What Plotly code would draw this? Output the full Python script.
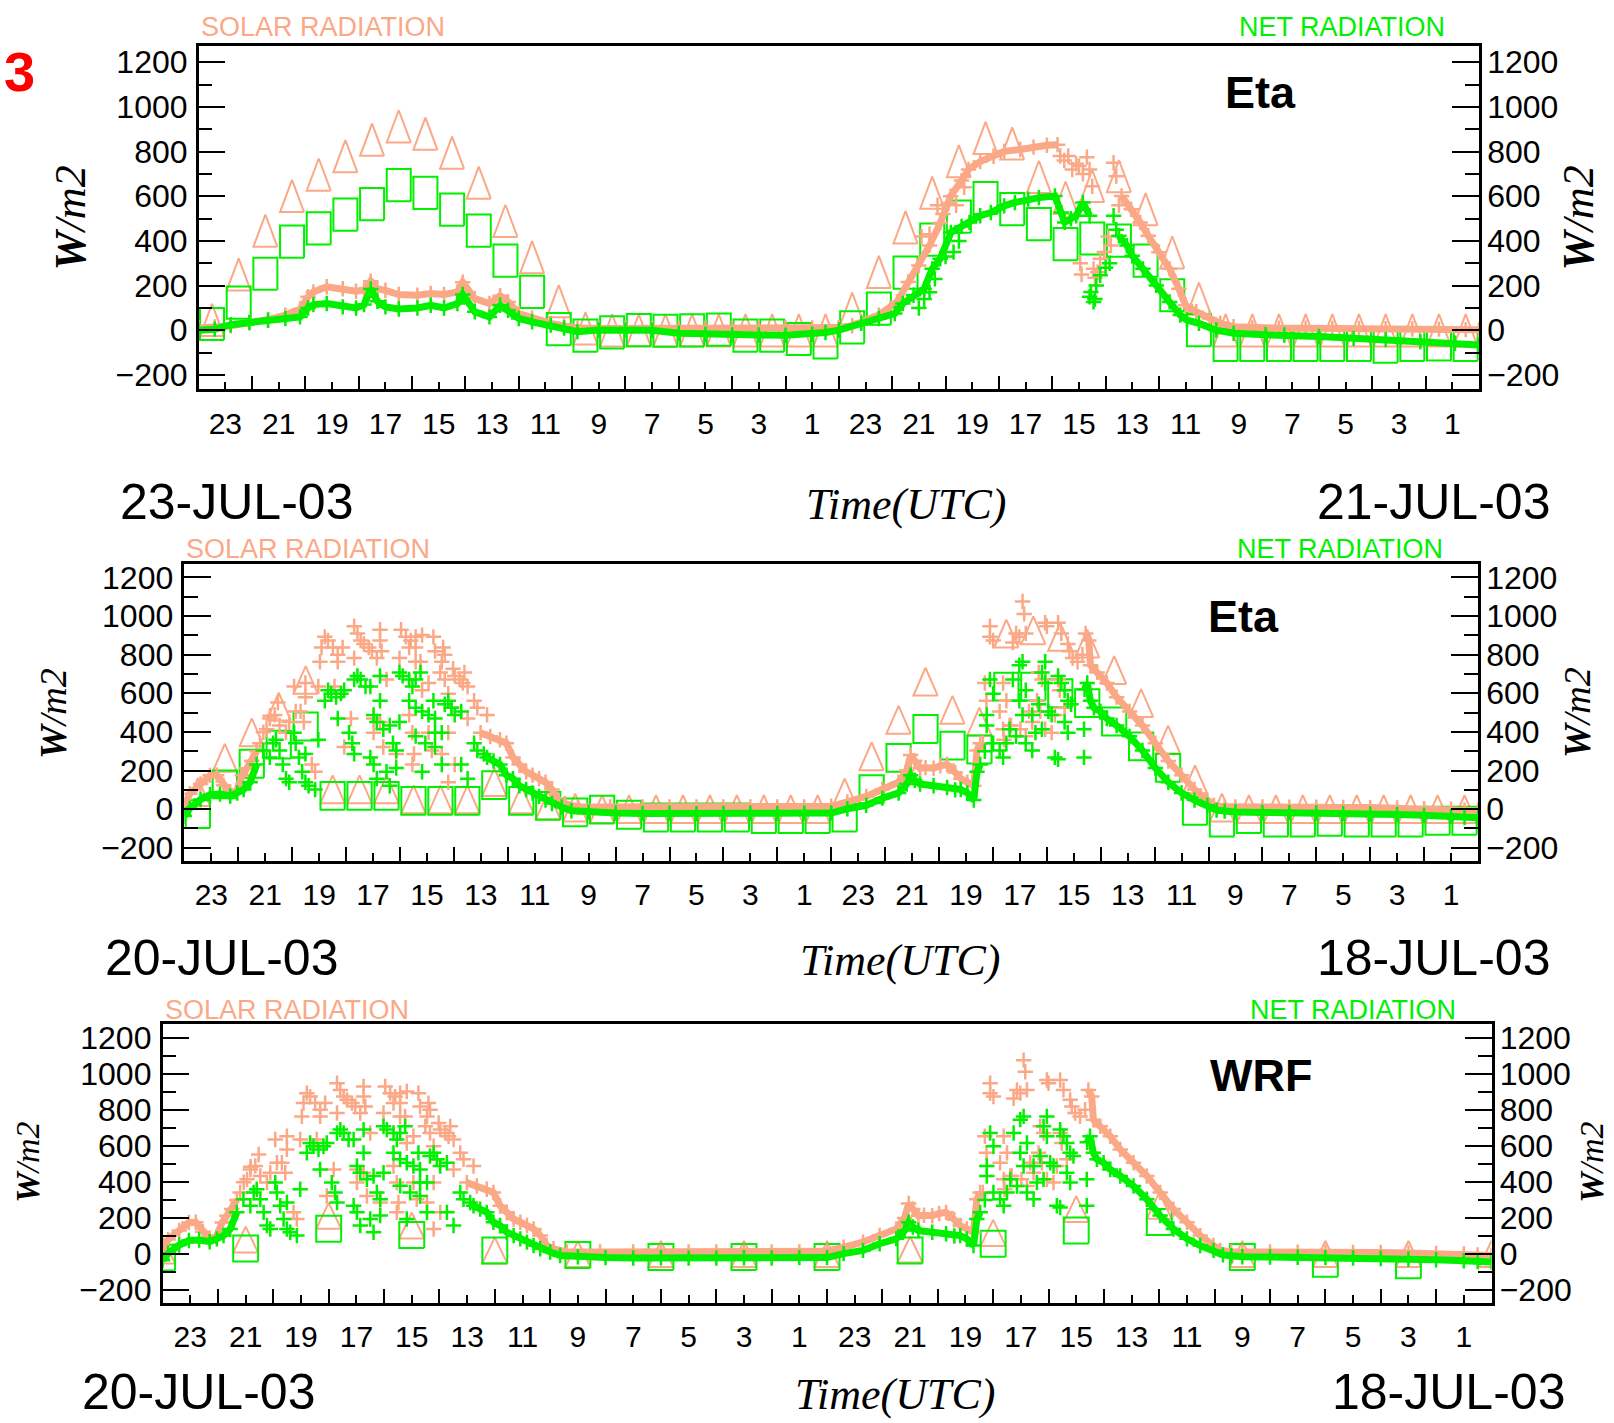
import plotly.graph_objects as go

W, H = 1614, 1423
ORANGE = "#FBA887"
GREEN = "#00F000"

# ---------------------------------------------------------------------------
# Time axis: hours before the end of each 48-h window (0 = right edge).
# Eta output is plotted at half hours, WRF output every 3 hours.
# ---------------------------------------------------------------------------
HALF_HOURS = [h + 0.5 for h in range(47, -1, -1)]
WRF_HOURS = list(range(48, -1, -3))
ODD_HOURS = list(range(47, 0, -2))
EVEN_HOURS = list(range(46, 1, -2))
TICK_TEXT = [str(h % 24) for h in ODD_HOURS]
Y_TICKS = [-200, 0, 200, 400, 600, 800, 1000, 1200]

# ---- Panel 1: Eta, 21-23 Jul 2003 (hourly model values) ----
ETA1_SOLAR = [46, 250, 446, 601, 697, 779, 853, 913, 880, 795, 661, 490, 327, 130, 8,
              0, 0, 0, 0, 0, 0, 0, 0, 0,
              97, 261, 461, 616, 757, 861, 836, 687, 594, 646, 690, 542, 349, 142,
              0, 0, 0, 0, 0, 0, 0, 0, 0, 0]
ETA1_NET = [28, 124, 253, 397, 456, 518, 565, 650, 615, 540, 446, 312, 172, 5,
            -24, -9, 1, -2, 0, 3, -24, -24, -39, -54,
            13, 97, 258, 406, 509, 592, 542, 475, 386, 411, 401, 312, 157, 1,
            -66, -66, -66, -66, -66, -66, -73, -66, -63, -66]

# ---- Panel 2: Eta, 18-20 Jul 2003 ----
ETA2_SOLAR = [89, 266, 398, 531, 669, 103, 103, 103, 51, 51, 51, 140, 51, 20, 8,
              0, 0, 0, 0, 0, 0, 0, 0, 0,
              86, 274, 463, 660, 514, 454, 909, 926, 892, 857, 720, 549, 360, 154,
              8, 0, 0, 0, 0, 0, 0, 0, 0, 0]
ETA2_NET = [-26, 128, 235, 334, 428, 69, 69, 69, 43, 43, 43, 124, 43, 17,
            -17, -2, -29, -43, -43, -43, -43, -51, -51, -51,
            -43, 103, 266, 415, 329, 309, 634, 634, 600, 549, 454, 325, 214, -9,
            -69, -51, -69, -69, -65, -69, -69, -69, -60, -60]

# ---- Panel 3: WRF, 18-20 Jul 2003 (3-hourly) ----
WRF_SOLAR = [20, 80, 212, 158, 20, 0, 0, 0, 0, 25, 117, 249, 267, 0, 0, 0, 0]
WRF_NET = [-20, 31, 140, 105, 20, -6, -17, -17, -17, 20, 57, 130, 178, -17, -54, -63, None]

# ---------------------------------------------------------------------------
# Station observations (hour, W/m2).  "band" = continuous record,
# "scatter" = cloudy periods with strongly varying values.
# ---------------------------------------------------------------------------
OBS1_SOLAR_BAND = [
    [(48.0, 10), (47.4, 15), (46.8, 20), (46.1, 35), (45.4, 48), (44.75, 68), (44.2, 95),
     (43.9, 150), (43.7, 172), (43.2, 195), (42.6, 186), (42.1, 175), (41.8, 180), (41.55, 220),
     (41.3, 185), (41.0, 179), (40.5, 160), (39.8, 157), (39.3, 165), (38.8, 160), (38.3, 172),
     (38.1, 215), (37.65, 142), (37.1, 120), (36.7, 155), (36.4, 127), (36.0, 75), (35.5, 55),
     (34.8, 31), (34.3, 20), (33.8, 10), (33.0, 8), (32.0, 8), (31.0, 8), (30.0, 7), (29.0, 8),
     (28.0, 9), (27.0, 10), (26.0, 12), (25.0, 10), (24.0, 12), (23.5, 20), (23.16, 38),
     (22.5, 68), (21.82, 127), (21.4, 216), (21.0, 290), (20.6, 380), (20.2, 480), (19.81, 600),
     (19.4, 670), (19.14, 720), (18.7, 755), (18.2, 779), (17.8, 801), (17.2, 809), (16.7, 820),
     (16.2, 828), (15.8, 831)],
    [(13.4, 601), (13.04, 542), (12.7, 483), (12.4, 423), (12.0, 349), (11.6, 275), (11.25, 186),
     (11.0, 112), (10.6, 83), (10.1, 53), (9.7, 31), (9.2, 16), (8.5, 10), (7.5, 9), (6.5, 9),
     (5.5, 8), (4.5, 8), (3.5, 7), (2.5, 6), (1.5, 5), (0.5, 3), (0.0, 2)],
]
OBS1_SOLAR_SCATTER = [
    (20.9, 420), (20.6, 430), (20.3, 560), (20.1, 520), (19.9, 570), (19.6, 560), (19.3, 640),
    (15.7, 780), (15.55, 760), (15.4, 780), (15.25, 720), (15.1, 745), (15.0, 735), (14.85, 700),
    (14.7, 775), (14.6, 720), (14.5, 645), (14.45, 275), (14.4, 235), (14.3, 260), (14.2, 320),
    (14.05, 350), (13.9, 420), (13.8, 380), (13.7, 750), (13.6, 690), (13.5, 560), (14.95, 300),
    (14.9, 250)]
OBS1_NET_BAND = [
    [(48.0, 0), (47.4, 5), (46.8, 25), (46.1, 35), (45.4, 45), (44.75, 52), (44.2, 60), (43.9, 100),
     (43.7, 115), (43.2, 120), (42.6, 105), (42.1, 100), (41.8, 115), (41.55, 185), (41.3, 130),
     (41.0, 105), (40.5, 95), (39.8, 100), (39.3, 112), (38.8, 100), (38.3, 120), (38.1, 160),
     (37.65, 83), (37.1, 60), (36.7, 112), (36.4, 90), (36.0, 53), (35.5, 38), (34.8, 23),
     (34.3, 10), (33.8, -6), (33.0, 1), (32.0, 1), (31.0, 0), (30.0, -13), (29.0, -18),
     (28.0, -21), (27.0, -21), (26.0, -22), (25.0, -18), (24.5, -10), (24.0, 1), (23.16, 31),
     (22.5, 53), (21.9, 75), (21.6, 120), (21.2, 157), (20.8, 186), (20.5, 275), (20.2, 320),
     (19.8, 438), (19.4, 465), (19.1, 483), (18.7, 513), (18.3, 527), (17.8, 557), (17.4, 572),
     (16.9, 587), (16.5, 594), (15.9, 601), (15.66, 527), (15.53, 483), (15.3, 500), (15.1, 513),
     (14.85, 572), (14.6, 513)],
    [(13.5, 423), (13.2, 379), (13.0, 334), (12.6, 275), (12.1, 201), (11.6, 127), (11.2, 68),
     (10.95, 46), (10.5, 31), (9.85, 1), (9.2, -13), (8.0, -20), (7.3, -21), (6.0, -28),
     (4.7, -36), (3.5, -42), (2.2, -50), (0.9, -58), (0.0, -66)],
]
OBS1_NET_SCATTER = [
    (21.0, 100), (20.8, 140), (20.6, 170), (20.4, 230), (20.0, 330), (19.7, 350), (19.5, 400),
    (14.55, 171), (14.45, 127), (14.35, 200), (14.2, 246), (14.0, 280), (13.85, 300), (13.7, 513),
    (13.6, 450), (14.6, 150), (14.4, 140)]

OBS2_SOLAR_BAND = [
    [(48.0, 20), (47.8, 80), (47.4, 130), (47.05, 175), (46.8, 176), (46.55, 124), (46.3, 86),
     (46.06, 95), (45.85, 175), (45.68, 212), (45.5, 250), (45.32, 300)],
    [(37.01, 396), (36.65, 377), (36.29, 359), (36.05, 341), (35.81, 268), (35.57, 231),
     (35.32, 194), (35.08, 176), (34.84, 158), (34.6, 139), (34.36, 102), (34.12, 47),
     (33.88, 29), (33.4, 11), (32.2, 11), (31.0, 11), (30.0, 12), (29.0, 12), (28.0, 12),
     (27.0, 12), (26.0, 11), (25.0, 12), (24.0, 15), (23.4, 38), (22.7, 66), (22.1, 103),
     (21.5, 139), (21.2, 200), (21.05, 280), (20.9, 250), (20.7, 212), (20.5, 215), (20.2, 212),
     (19.95, 225), (19.7, 231), (19.4, 190), (19.19, 158), (18.95, 139), (18.71, 121),
     (18.59, 304), (18.47, 341)],
    [(14.56, 910), (14.44, 873), (14.38, 745), (14.13, 708), (13.77, 653), (13.41, 580),
     (12.93, 506), (12.45, 433), (11.97, 341), (11.49, 249), (11.0, 176), (10.52, 102),
     (10.04, 47), (9.8, 20), (9.4, 12), (9.0, 11), (8.0, 11), (7.0, 10), (6.0, 10), (5.0, 9),
     (4.0, 8), (3.0, 6), (2.0, 3), (1.0, 0), (0.5, -5), (0.0, -8)],
]
OBS2_SOLAR_SCATTER = [
    (45.2, 341), (44.95, 414), (44.83, 469), (44.65, 488), (44.53, 552), (44.47, 433), (44.23, 396),
    (44.11, 451), (43.93, 635), (43.87, 506), (43.69, 506), (43.51, 653), (43.51, 580), (43.57, 451),
    (43.27, 231), (43.15, 194), (43.03, 635), (42.97, 763), (42.91, 837), (42.79, 892), (42.67, 873),
    (42.49, 837), (42.31, 800), (42.13, 837), (42.43, 635), (42.31, 763), (41.7, 947), (41.58, 910),
    (41.46, 873), (41.34, 855), (41.16, 837), (41.04, 818), (41.7, 782), (41.82, 469), (42.07, 322),
    (40.74, 929), (40.74, 873), (40.68, 818), (40.86, 782), (40.5, 671), (40.98, 469), (40.98, 396),
    (40.74, 451), (40.62, 322), (40.14, 286), (39.96, 929), (39.78, 892), (39.6, 873), (39.42, 892),
    (39.18, 901), (39.66, 837), (39.42, 837), (39.24, 763), (40.02, 782), (38.76, 892), (38.7, 818),
    (38.4, 837), (38.34, 800), (38.45, 763), (38.03, 727), (37.97, 690), (37.79, 671), (37.67, 653),
    (37.61, 708), (37.49, 635), (38.21, 598), (38.09, 525), (39.18, 616), (38.94, 653), (38.34, 671),
    (38.51, 708), (39.42, 763), (39.66, 488), (39.54, 396), (39.48, 286), (39.54, 231), (38.82, 304),
    (38.94, 396), (38.45, 286), (38.21, 396), (37.97, 231), (38.21, 139), (37.25, 561), (37.13, 525),
    (36.77, 488), (37.49, 469), (45.07, 398), (44.82, 484),
    (18.3, 653), (18.24, 561), (18.37, 341), (18.11, 947), (18.11, 892), (17.99, 873), (17.14, 910),
    (17.02, 892), (16.9, 1075), (16.84, 1011), (16.78, 910), (17.26, 863), (17.62, 653), (17.5, 561),
    (17.75, 506), (17.38, 433), (17.62, 414), (17.59, 359), (17.33, 433), (16.3, 708), (16.18, 671),
    (16.06, 965), (16.0, 947), (16.36, 561), (16.24, 506), (16.06, 414), (16.54, 451), (16.66, 506),
    (16.98, 414), (16.78, 377), (15.58, 965), (15.46, 910), (15.22, 855), (15.16, 818), (15.04, 782),
    (14.86, 763), (14.68, 800), (15.58, 671), (15.52, 616), (15.34, 525), (15.7, 488), (15.82, 396)]
OBS2_NET_BAND = [
    [(48.0, -35), (47.8, 4), (47.4, 50), (47.05, 75), (46.68, 78), (46.3, 68), (46.04, 84),
     (45.8, 102), (45.56, 139), (45.32, 231)],
    [(36.89, 286), (36.77, 268), (36.53, 249), (36.29, 231), (36.05, 176), (35.81, 158),
     (35.57, 121), (35.32, 102), (35.08, 84), (34.84, 66), (34.6, 47), (34.36, 29), (34.0, 11),
     (33.64, -8), (33.0, -15), (32.0, -20), (31.0, -22), (30.0, -21), (29.0, -23), (28.0, -22),
     (27.0, -21), (26.0, -22), (25.0, -20), (24.0, -20), (23.4, 2), (22.7, 20), (22.1, 57),
     (21.5, 84), (21.2, 130), (21.05, 176), (20.9, 150), (20.7, 130), (20.2, 121), (19.7, 112),
     (19.4, 100), (19.19, 102), (18.95, 84), (18.71, 47), (18.59, 194), (18.47, 231)],
    [(14.6, 620), (14.5, 653), (14.38, 561), (14.25, 525), (14.01, 506), (13.77, 469),
     (13.41, 433), (12.93, 377), (12.45, 304), (11.97, 213), (11.49, 139), (11.0, 84),
     (10.52, 47), (10.04, 20), (9.7, -5), (9.4, -10), (9.0, -15), (8.0, -17), (7.0, -18),
     (6.0, -20), (5.0, -22), (4.0, -25), (3.0, -28), (2.0, -32), (1.0, -38), (0.5, -42), (0.0, -45)],
]
OBS2_NET_SCATTER = [
    (45.08, 304), (44.83, 268), (44.71, 341), (44.6, 359), (44.47, 304), (44.35, 231), (44.23, 158),
    (44.11, 139), (43.93, 396), (43.87, 341), (43.75, 268), (43.63, 194), (43.51, 139), (43.39, 121),
    (43.15, 102), (43.51, 286), (43.03, 359), (42.79, 561), (42.67, 616), (42.55, 598), (42.37, 580),
    (42.19, 598), (42.07, 616), (42.31, 469), (41.89, 396), (41.77, 341), (41.7, 286), (41.7, 671),
    (41.58, 690), (41.46, 671), (41.28, 635), (41.1, 635), (40.98, 488), (40.86, 451), (40.74, 561),
    (40.74, 690), (41.1, 268), (40.98, 231), (40.86, 158), (40.5, 194), (40.38, 121), (40.62, 414),
    (40.38, 433), (40.26, 341), (40.14, 304), (40.02, 451), (40.14, 213), (40.02, 708), (39.9, 690),
    (39.66, 671), (39.42, 671), (39.24, 708), (39.54, 635), (39.66, 561), (39.42, 525), (39.18, 506),
    (38.94, 488), (38.76, 561), (38.7, 469), (38.34, 543), (38.09, 525), (37.97, 488), (37.73, 506),
    (38.21, 561), (39.42, 378), (39.06, 341), (38.7, 396), (38.45, 396), (39.18, 194), (38.7, 322),
    (38.45, 231), (37.73, 231), (37.49, 158), (37.25, 341), (37.13, 304),
    (18.11, 671), (17.99, 598), (18.23, 488), (18.23, 433), (17.99, 341), (17.75, 304), (17.62, 268),
    (17.5, 341), (17.38, 414), (17.26, 671), (17.02, 745), (16.9, 763), (16.78, 616), (17.02, 561),
    (16.9, 488), (17.14, 377), (16.78, 341), (16.54, 304), (16.42, 396), (16.54, 488), (16.18, 708),
    (16.06, 763), (16.06, 653), (16.3, 543), (15.94, 506), (16.18, 414), (15.82, 488), (15.58, 690),
    (15.46, 653), (15.34, 616), (15.22, 561), (15.1, 543), (15.7, 268), (15.58, 258), (15.34, 451),
    (15.22, 396), (14.62, 414), (14.62, 268), (18.3, 300)]

# Model symbol size in data units (half-width in hours, half-height in W/m2)
SYM_HW = 0.45
SYM_HH = 72

# Plot areas in page pixels: (left, right, top, bottom), y-range
PANELS = [
    dict(box=(198.7, 1479.0, 42.2, 388.0), yr=(-264, 1273)),
    dict(box=(184.4, 1478.0, 564.0, 862.8), yr=(-267, 1269)),
    dict(box=(162.6, 1491.5, 1027.5, 1307.7), yr=(-269, 1274)),
]


def square_outline(ts, vs):
    xs, ys = [], []
    for t, v in zip(ts, vs):
        if v is None:
            continue
        xs += [t - SYM_HW, t + SYM_HW, t + SYM_HW, t - SYM_HW, t - SYM_HW, None]
        ys += [v - SYM_HH, v - SYM_HH, v + SYM_HH, v + SYM_HH, v - SYM_HH, None]
    return xs, ys


def triangle_outline(ts, vs):
    xs, ys = [], []
    for t, v in zip(ts, vs):
        if v is None:
            continue
        xs += [t - SYM_HW, t, t + SYM_HW, t - SYM_HW, None]
        ys += [v - SYM_HH, v + SYM_HH, v - SYM_HH, v - SYM_HH, None]
    return xs, ys


fig = go.Figure()


def add_panel(i, model_t, solar_model, net_model, solar_band, solar_sc, net_band, net_sc):
    xa, ya = ("x" if i == 1 else f"x{i}"), ("y" if i == 1 else f"y{i}")
    tx, ty = triangle_outline(model_t, solar_model)
    fig.add_trace(go.Scatter(x=tx, y=ty, mode="lines", xaxis=xa, yaxis=ya,
                             line=dict(color=ORANGE, width=2), hoverinfo="skip"))
    sx, sy = square_outline(model_t, net_model)
    fig.add_trace(go.Scatter(x=sx, y=sy, mode="lines", xaxis=xa, yaxis=ya,
                             line=dict(color=GREEN, width=2), hoverinfo="skip"))
    for color, bands, scat in ((ORANGE, solar_band, solar_sc), (GREEN, net_band, net_sc)):
        for seg in bands:
            fig.add_trace(go.Scatter(
                x=[p[0] for p in seg], y=[p[1] for p in seg], mode="lines+markers",
                xaxis=xa, yaxis=ya, line=dict(color=color, width=7),
                marker=dict(symbol="cross-thin", size=11, line=dict(color=color, width=2.5))))
        fig.add_trace(go.Scatter(
            x=[p[0] for p in scat], y=[p[1] for p in scat], mode="markers",
            xaxis=xa, yaxis=ya,
            marker=dict(symbol="cross-thin", size=11, line=dict(color=color, width=2.5))))


add_panel(1, HALF_HOURS, ETA1_SOLAR, ETA1_NET, OBS1_SOLAR_BAND, OBS1_SOLAR_SCATTER,
          OBS1_NET_BAND, OBS1_NET_SCATTER)
add_panel(2, HALF_HOURS, ETA2_SOLAR, ETA2_NET, OBS2_SOLAR_BAND, OBS2_SOLAR_SCATTER,
          OBS2_NET_BAND, OBS2_NET_SCATTER)
add_panel(3, WRF_HOURS, WRF_SOLAR, WRF_NET, OBS2_SOLAR_BAND, OBS2_SOLAR_SCATTER,
          OBS2_NET_BAND, OBS2_NET_SCATTER)

TICK_FONT = dict(family="Liberation Sans, Arial, sans-serif", size=32, color="black")
layout = dict(width=W, height=H, margin=dict(l=0, r=0, t=0, b=0),
              paper_bgcolor="white", plot_bgcolor="white", showlegend=False)

for i, p in enumerate(PANELS, start=1):
    l, r, t, b = p["box"]
    xd = [l / W, r / W]
    yd = [1 - b / H, 1 - t / H]
    sfx = "" if i == 1 else str(i)
    layout[f"xaxis{sfx}"] = dict(
        domain=xd, range=[48, 0], anchor=f"y{sfx}", showgrid=False, zeroline=False,
        showline=True, linecolor="black", linewidth=2.5, mirror=True,
        tickmode="array", tickvals=ODD_HOURS, ticktext=TICK_TEXT,
        ticks="inside", ticklen=8, tickwidth=2, tickcolor="black",
        minor=dict(tickmode="array", tickvals=EVEN_HOURS, ticks="inside", ticklen=14,
                   tickwidth=2, tickcolor="black", showgrid=False),
        tickfont=dict(TICK_FONT, size=30), ticklabelstandoff=6)
    common_y = dict(domain=yd, range=list(p["yr"]), showgrid=False, zeroline=False,
                    showline=True, linecolor="black", linewidth=2.5,
                    tickmode="array", tickvals=Y_TICKS, ticks="inside", ticklen=27,
                    tickwidth=2, tickcolor="black",
                    minor=dict(tickmode="linear", tick0=-300, dtick=200, ticks="inside",
                               ticklen=14, tickwidth=2, tickcolor="black", showgrid=False),
                    tickfont=TICK_FONT)
    layout[f"yaxis{sfx}"] = dict(common_y, anchor=f"x{sfx}", side="left", ticklabelstandoff=2)
    layout[f"yaxis{i + 3}"] = dict(common_y, anchor=f"x{sfx}", side="right",
                                   overlaying=f"y{sfx}", ticklabelstandoff=-1)

fig.update_layout(**layout)
# placeholder traces so the right-hand axes are drawn
for i in range(1, 4):
    sfx = "" if i == 1 else str(i)
    fig.add_trace(go.Scatter(x=[None], y=[None], xaxis=f"x{sfx}", yaxis=f"y{i + 3}",
                             showlegend=False, hoverinfo="skip"))


def label(text, px, py, size, color="black", family="Liberation Sans, Arial, sans-serif",
          xanchor="center", yanchor="middle", angle=0):
    fig.add_annotation(text=text, x=px / W, y=1 - py / H, xref="paper", yref="paper",
                       showarrow=False, xanchor=xanchor, yanchor=yanchor, textangle=angle,
                       font=dict(size=size, color=color, family=family))


SANS = "Liberation Sans, Arial, sans-serif"
SERIF = "Liberation Serif, Times New Roman, serif"
UNITS = "<b><i>W</i></b><i>/m2</i>"

label("<b>3</b>", 19, 68, 56, color="#FF0000")

TEXTS = [
    # (solar_x, solar_y, net_right, net_y, left_date, ld_x, right_date, rd_x, date_y,
    #  time_x, model, model_x, model_y, unitL_x, unitR_x, unit_y, unit_size)
    (198.7, 23, 1447, 23, "23-JUL-03", 118, "21-JUL-03", 1552, 502, 906, "Eta", 1260, 89, 70, 1578, 216, 44),
    (184, 549, 1445, 549, "20-JUL-03", 103, "18-JUL-03", 1552, 961, 900, "Eta", 1243, 617, 53, 1577, 714, 38),
    (163, 1013, 1458, 1013, "20-JUL-03", 80, "18-JUL-03", 1567, 1398, 895, "WRF", 1261, 1079, 28, 1592, 1167, 34),
]
for (sx, sy, nx, ny, ld, ldx, rd, rdx, dy, tx, model, mx, my, ulx, urx, uy, us) in TEXTS:
    label("SOLAR RADIATION", sx, sy, 27, color=ORANGE, family=SANS, xanchor="left")
    label("NET RADIATION", nx, ny, 27, color=GREEN, family=SANS, xanchor="right")
    label(ld, ldx, dy, 50, xanchor="left")
    label(rd, rdx, dy, 50, xanchor="right")
    label("<i>Time(UTC)</i>", tx, dy + 2, 44, family=SERIF)
    label(f"<b>{model}</b>", mx, my, 45)
    label(UNITS, ulx, uy, us, family=SERIF, angle=-90)
    label(UNITS, urx, uy, us, family=SERIF, angle=-90)

fig.write_html("out.html")
